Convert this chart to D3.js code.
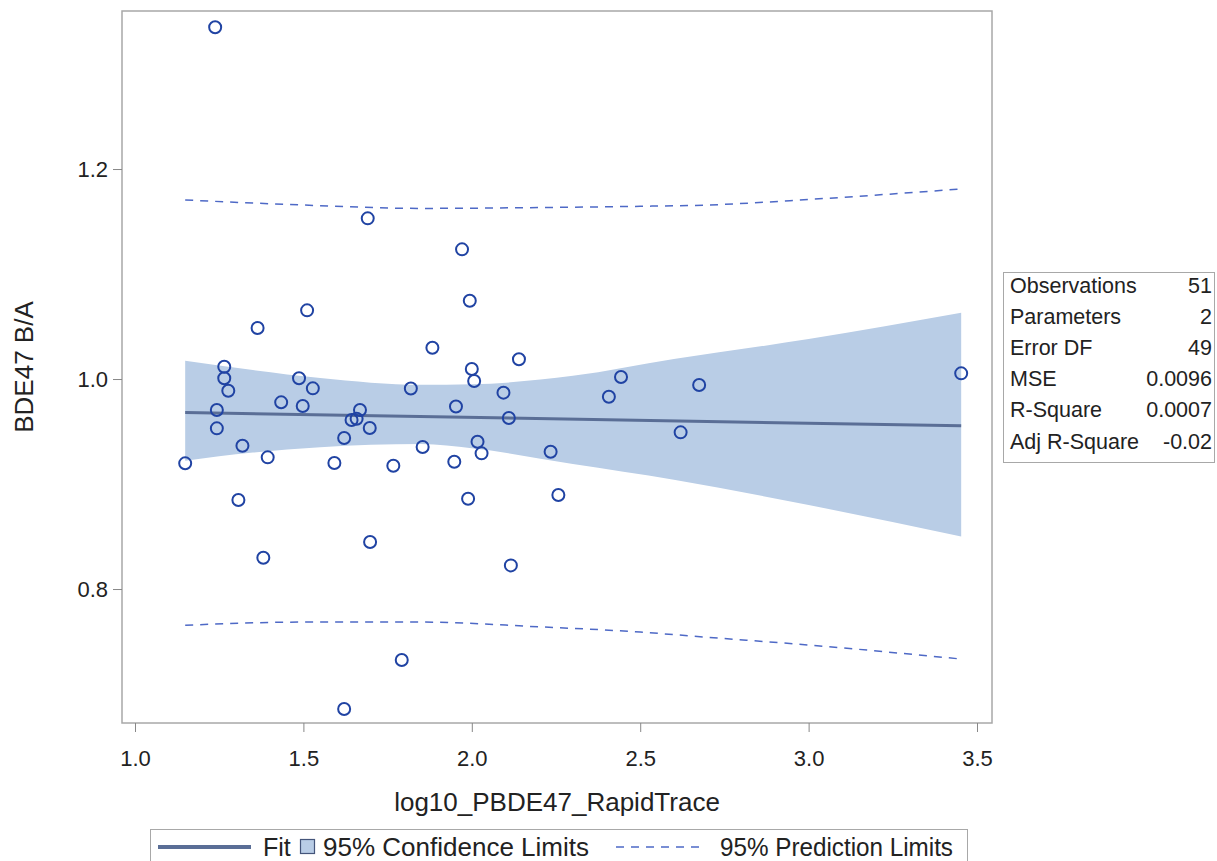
<!DOCTYPE html>
<html>
<head>
<meta charset="utf-8">
<script src="https://cdn.jsdelivr.net/npm/d3@7"></script>
<style>
  body { margin: 0; background: #fff; }
  svg { display: block; font-family: "Liberation Sans", Arial, sans-serif; }
</style>
</head>
<body>
<svg id="chart"></svg>
<script>
var width = 1217;
var height = 861;

// observed points: log10_PBDE47_RapidTrace vs BDE47 B/A
var obsX = [1.238, 1.691, 1.971, 1.994, 1.364, 1.511, 1.883, 2.140, 1.265, 1.265,
            1.277, 1.487, 1.528, 1.498, 1.434, 1.243, 1.243, 1.319, 1.149, 1.307,
            1.394, 1.381, 1.592, 1.621, 1.643, 1.658, 1.668, 1.697, 1.698, 1.621,
            1.792, 1.767, 1.819, 1.854, 1.953, 1.948, 1.989, 2.000, 2.007, 2.017,
            2.029, 2.094, 2.110, 2.116, 2.234, 2.257, 2.407, 2.443, 2.620, 2.675,
            3.453];
var obsY = [1.335, 1.153, 1.1235, 1.0746, 1.0486, 1.0654, 1.0298, 1.0188, 1.0117, 1.0007,
            0.9889, 1.0007, 0.9911, 0.9743, 0.9778, 0.9705, 0.9530, 0.9365, 0.9197, 0.8848,
            0.9254, 0.8298, 0.9200, 0.9438, 0.9610, 0.9622, 0.9705, 0.9533, 0.8448, 0.6857,
            0.7324, 0.9174, 0.9910, 0.9352, 0.9738, 0.9212, 0.8860, 1.0095, 0.9981, 0.9403,
            0.9292, 0.9870, 0.9629, 0.8225, 0.9308, 0.8895, 0.9831, 1.0019, 0.9492, 0.9943,
            1.0054];

var fitX = [1.149, 3.453];
var fitY = [0.968, 0.9555];

var bandX = [1.149, 1.35, 1.55, 1.85, 2.0, 2.3, 2.6, 3.0, 3.453];
var clUpper = [1.0174, 1.0086, 1.001, 0.9945, 0.995, 1.003, 1.019, 1.038, 1.063];
var clLower = [0.9221, 0.930, 0.935, 0.938, 0.934, 0.919, 0.904, 0.880, 0.850];

var plX = [1.149, 1.5, 1.85, 2.2, 2.5, 2.7, 3.0, 3.453];
var plUpper = [1.1705, 1.1657, 1.1625, 1.1633, 1.1645, 1.1657, 1.171, 1.181];
var plLower = [0.7655, 0.7685, 0.7685, 0.764, 0.759, 0.754, 0.7467, 0.7333];

var xTicks = [1.0, 1.5, 2.0, 2.5, 3.0, 3.5];
var yTicks = [0.8, 1.0, 1.2];

var statLabels = ['Observations', 'Parameters', 'Error DF', 'MSE', 'R-Square', 'Adj R-Square'];
var statValues = ['51', '2', '49', '0.0096', '0.0007', '-0.02'];

var legendItems = ['Fit', '95% Confidence Limits', '95% Prediction Limits'];

var plot = {left: 122, top: 11, right: 992, bottom: 723};

var x = d3.scaleLinear().domain([0.9614, 3.5445]).range([plot.left, plot.right]);
var y = d3.scaleLinear().domain([0.6724, 1.3505]).range([plot.bottom, plot.top]);

var svg = d3.select('#chart')
    .attr('width', width)
    .attr('height', height);

var textColor = '#222';
var markColor = '#2043a3';
var fitColor = '#5a6e96';
var bandColor = '#b9cde6';
var predColor = '#4e69c6';

// confidence band
var band = bandX.map((v, i) => ({x: v, hi: clUpper[i], lo: clLower[i]}));
svg.append('path')
    .datum(band)
    .attr('fill', bandColor)
    .attr('d', d3.area().curve(d3.curveMonotoneX).x(d => x(d.x)).y0(d => y(d.lo)).y1(d => y(d.hi)));

// fit line
svg.append('path')
    .datum(fitX.map((v, i) => [v, fitY[i]]))
    .attr('fill', 'none')
    .attr('stroke', fitColor)
    .attr('stroke-width', 3)
    .attr('d', d3.line().x(d => x(d[0])).y(d => y(d[1])));

// prediction limits
[plUpper, plLower].forEach(function(arr){
  svg.append('path')
      .datum(plX.map((v, i) => [v, arr[i]]))
      .attr('fill', 'none')
      .attr('stroke', predColor)
      .attr('stroke-width', 1.5)
      .attr('stroke-dasharray', '8,7')
      .attr('d', d3.line().curve(d3.curveMonotoneX).x(d => x(d[0])).y(d => y(d[1])));
});

// points
svg.append('g')
  .selectAll('circle')
  .data(obsX.map((v, i) => [v, obsY[i]]))
  .enter()
  .append('circle')
    .attr('cx', d => x(d[0]))
    .attr('cy', d => y(d[1]))
    .attr('r', 6)
    .attr('fill', 'none')
    .attr('stroke', markColor)
    .attr('stroke-width', 2);

// frame
svg.append('rect')
    .attr('x', plot.left)
    .attr('y', plot.top)
    .attr('width', plot.right - plot.left)
    .attr('height', plot.bottom - plot.top)
    .attr('fill', 'none')
    .attr('stroke', '#a8a8a8')
    .attr('stroke-width', 1.5);

// axes
var xAxis = svg.append('g')
    .attr('transform', 'translate(0,' + plot.bottom + ')')
    .call(d3.axisBottom(x).tickValues(xTicks).tickFormat(d3.format('.1f')).tickSize(9).tickPadding(18));
var yAxis = svg.append('g')
    .attr('transform', 'translate(' + plot.left + ',0)')
    .call(d3.axisLeft(y).tickValues(yTicks).tickFormat(d3.format('.1f')).tickSize(9).tickPadding(5));

[xAxis, yAxis].forEach(function(g){
  g.select('.domain').remove();
  g.selectAll('line').attr('stroke', '#888').attr('stroke-width', 1);
  g.selectAll('text')
      .attr('fill', textColor)
      .style('font-size', '22px')
      .style('font-family', '"Liberation Sans", Arial, sans-serif');
});

svg.append('text')
    .attr('x', (plot.left + plot.right) / 2)
    .attr('y', 811)
    .attr('text-anchor', 'middle')
    .attr('fill', textColor)
    .style('font-size', '26px')
    .text('log10_PBDE47_RapidTrace');

svg.append('text')
    .attr('transform', 'translate(33,' + (plot.top + plot.bottom) / 2 + ') rotate(-90)')
    .attr('text-anchor', 'middle')
    .attr('fill', textColor)
    .style('font-size', '26px')
    .text('BDE47 B/A');

// stats table
var table = svg.append('g');
table.append('rect')
    .attr('x', 1003.5)
    .attr('y', 272.5)
    .attr('width', 211)
    .attr('height', 190)
    .attr('fill', '#fff')
    .attr('stroke', '#a8a8a8')
    .attr('stroke-width', 1);
var rows = table.selectAll('.row')
    .data(statLabels)
    .enter()
  .append('g')
    .classed('row', true)
    .attr('transform', (d, i) => 'translate(0,' + (293 + i * 31.1) + ')');
rows.append('text')
    .attr('x', 1010)
    .attr('fill', textColor)
    .style('font-size', '21.5px')
    .text(d => d);
rows.append('text')
    .attr('x', 1212)
    .attr('text-anchor', 'end')
    .attr('fill', textColor)
    .style('font-size', '21.5px')
    .text((d, i) => statValues[i]);

// legend
var legend = svg.append('g');
legend.append('rect')
    .attr('x', 150.5)
    .attr('y', 829.5)
    .attr('width', 817)
    .attr('height', 40)
    .attr('fill', '#fff')
    .attr('stroke', '#a8a8a8')
    .attr('stroke-width', 1);
legend.append('line')
    .attr('x1', 158).attr('x2', 251)
    .attr('y1', 847).attr('y2', 847)
    .attr('stroke', fitColor)
    .attr('stroke-width', 4);
legend.append('text')
    .attr('x', 263).attr('y', 856)
    .attr('fill', textColor)
    .style('font-size', '25px')
    .text(legendItems[0]);
legend.append('rect')
    .attr('x', 300.5).attr('y', 839.5)
    .attr('width', 14).attr('height', 14)
    .attr('fill', bandColor)
    .attr('stroke', '#44557a')
    .attr('stroke-width', 1.2);
legend.append('text')
    .attr('x', 323).attr('y', 856)
    .attr('fill', textColor)
    .style('font-size', '25px')
    .attr('textLength', 266)
    .attr('lengthAdjust', 'spacingAndGlyphs')
    .text(legendItems[1]);
legend.append('line')
    .attr('x1', 616).attr('x2', 702)
    .attr('y1', 847).attr('y2', 847)
    .attr('stroke', predColor)
    .attr('stroke-width', 1.5)
    .attr('stroke-dasharray', '8,7');
legend.append('text')
    .attr('x', 720).attr('y', 856)
    .attr('fill', textColor)
    .style('font-size', '25px')
    .attr('textLength', 233)
    .attr('lengthAdjust', 'spacingAndGlyphs')
    .text(legendItems[2]);
</script>
</body>
</html>
